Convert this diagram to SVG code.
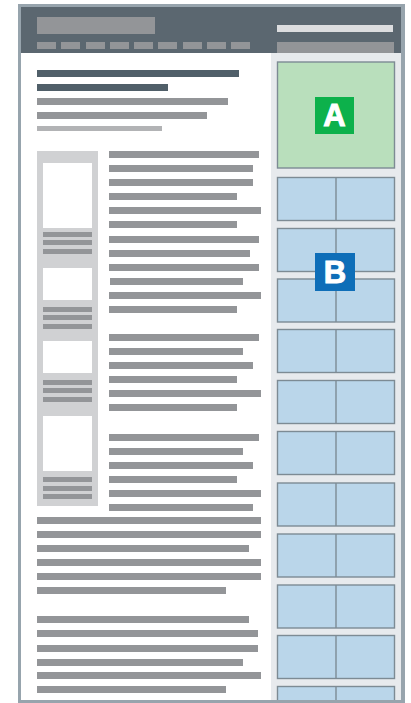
<svg xmlns="http://www.w3.org/2000/svg" width="411" height="703" viewBox="0 0 411 703">
<style>
.g{fill:#939598}
.d{fill:#505f69}
.l{fill:#b2b3b5}
.w{fill:#ffffff}
.bx{fill:#bad6ea;stroke:#7d8b94;stroke-width:1.4}
.ax{fill:#b9dfbc;stroke:#7d8b94;stroke-width:1.4}
.dv{stroke:#7d8b94;stroke-width:1.4}
.lbl{font-family:"Liberation Sans",Arial,sans-serif;font-weight:bold;font-size:31px;fill:#ffffff;stroke:#ffffff;stroke-width:1;text-anchor:middle}
</style>
<rect x="0" y="0" width="411" height="703" fill="#ffffff"/>
<g id="page">
<rect x="21" y="7" width="380" height="696" fill="#ffffff"/>
</g>
<g id="header">
<rect x="21" y="7" width="380" height="46" fill="#5b6770"/>
<rect x="37" y="17" width="118" height="17" class="g"/>
<rect x="37" y="42" width="19" height="7" class="g"/>
<rect x="61" y="42" width="19" height="7" class="g"/>
<rect x="86" y="42" width="19" height="7" class="g"/>
<rect x="110" y="42" width="19" height="7" class="g"/>
<rect x="134" y="42" width="19" height="7" class="g"/>
<rect x="158" y="42" width="19" height="7" class="g"/>
<rect x="183" y="42" width="19" height="7" class="g"/>
<rect x="207" y="42" width="19" height="7" class="g"/>
<rect x="231" y="42" width="19" height="7" class="g"/>
<rect x="277" y="25" width="116" height="7" fill="#dcdddf"/>
<rect x="277" y="42" width="117" height="11" class="g"/>
</g>
<g id="sidebar">
<rect x="271" y="53" width="130" height="650" fill="#e7eaed"/>
</g>
<g id="title">
<rect x="37" y="70" width="202" height="7" class="d"/>
<rect x="37" y="84" width="131" height="7" class="d"/>
<rect x="37" y="98" width="191" height="7" class="g"/>
<rect x="37" y="112" width="170" height="7" class="g"/>
<rect x="37" y="126" width="125" height="5" class="l"/>
</g>
<g id="gallery">
<rect x="37" y="151" width="61" height="355" fill="#d0d1d3"/>
<rect x="43" y="163" width="49" height="65" class="w"/>
<rect x="43" y="232" width="49" height="5" class="g"/>
<rect x="43" y="240" width="49" height="5" class="g"/>
<rect x="43" y="249" width="49" height="5" class="g"/>
<rect x="43" y="268" width="49" height="32" class="w"/>
<rect x="43" y="307" width="49" height="5" class="g"/>
<rect x="43" y="315" width="49" height="5" class="g"/>
<rect x="43" y="324" width="49" height="5" class="g"/>
<rect x="43" y="341" width="49" height="32" class="w"/>
<rect x="43" y="380" width="49" height="5" class="g"/>
<rect x="43" y="388" width="49" height="5" class="g"/>
<rect x="43" y="397" width="49" height="5" class="g"/>
<rect x="43" y="416" width="49" height="55" class="w"/>
<rect x="43" y="477" width="49" height="5" class="g"/>
<rect x="43" y="486" width="49" height="5" class="g"/>
<rect x="43" y="494" width="49" height="5" class="g"/>
</g>
<g id="body-text">
<rect x="109" y="151" width="150" height="7" class="g"/>
<rect x="109" y="165" width="144" height="7" class="g"/>
<rect x="109" y="179" width="144" height="7" class="g"/>
<rect x="109" y="193" width="128" height="7" class="g"/>
<rect x="109" y="207" width="152" height="7" class="g"/>
<rect x="109" y="221" width="128" height="7" class="g"/>
<rect x="109" y="236" width="150" height="7" class="g"/>
<rect x="109" y="250" width="141" height="7" class="g"/>
<rect x="109" y="264" width="150" height="7" class="g"/>
<rect x="110" y="278" width="133" height="7" class="g"/>
<rect x="109" y="292" width="152" height="7" class="g"/>
<rect x="109" y="306" width="128" height="7" class="g"/>

<rect x="109" y="334" width="150" height="7" class="g"/>
<rect x="109" y="348" width="134" height="7" class="g"/>
<rect x="109" y="362" width="144" height="7" class="g"/>
<rect x="109" y="376" width="128" height="7" class="g"/>
<rect x="109" y="390" width="152" height="7" class="g"/>
<rect x="109" y="404" width="128" height="7" class="g"/>

<rect x="109" y="434" width="150" height="7" class="g"/>
<rect x="109" y="448" width="134" height="7" class="g"/>
<rect x="109" y="462" width="144" height="7" class="g"/>
<rect x="109" y="476" width="128" height="7" class="g"/>
<rect x="109" y="490" width="152" height="7" class="g"/>
<rect x="109" y="504" width="144" height="7" class="g"/>

<rect x="37" y="517" width="224" height="7" class="g"/>
<rect x="37" y="531" width="224" height="7" class="g"/>
<rect x="37" y="545" width="212" height="7" class="g"/>
<rect x="37" y="559" width="224" height="7" class="g"/>
<rect x="37" y="573" width="224" height="7" class="g"/>
<rect x="37" y="587" width="189" height="7" class="g"/>

<rect x="37" y="616" width="212" height="7" class="g"/>
<rect x="37" y="630" width="221" height="7" class="g"/>
<rect x="37" y="645" width="221" height="7" class="g"/>
<rect x="37" y="659" width="206" height="7" class="g"/>
<rect x="37" y="672" width="224" height="7" class="g"/>
<rect x="37" y="686" width="189" height="7" class="g"/>
</g>
<g id="ad-a">
<rect x="277.5" y="62" width="117" height="106" class="ax"/>
<rect x="315" y="97" width="39" height="37" fill="#0db14b"/>
<text x="334.5" y="126" class="lbl">A</text>
</g>
<g id="ads-b">
<g id="b-row-1"><rect x="277.5" y="177.5" width="117" height="43" class="bx"/><line x1="336" y1="177.5" x2="336" y2="220.5" class="dv"/></g>
<g id="b-row-2"><rect x="277.5" y="228.5" width="117" height="43" class="bx"/><line x1="336" y1="228.5" x2="336" y2="271.5" class="dv"/></g>
<g id="b-row-3"><rect x="277.5" y="279" width="117" height="43" class="bx"/><line x1="336" y1="279" x2="336" y2="322" class="dv"/></g>
<g id="b-row-4"><rect x="277.5" y="329.5" width="117" height="43" class="bx"/><line x1="336" y1="329.5" x2="336" y2="372.5" class="dv"/></g>
<g id="b-row-5"><rect x="277.5" y="380.5" width="117" height="43" class="bx"/><line x1="336" y1="380.5" x2="336" y2="423.5" class="dv"/></g>
<g id="b-row-6"><rect x="277.5" y="431.5" width="117" height="43" class="bx"/><line x1="336" y1="431.5" x2="336" y2="474.5" class="dv"/></g>
<g id="b-row-7"><rect x="277.5" y="483" width="117" height="43" class="bx"/><line x1="336" y1="483" x2="336" y2="526" class="dv"/></g>
<g id="b-row-8"><rect x="277.5" y="534" width="117" height="43" class="bx"/><line x1="336" y1="534" x2="336" y2="577" class="dv"/></g>
<g id="b-row-9"><rect x="277.5" y="585" width="117" height="43" class="bx"/><line x1="336" y1="585" x2="336" y2="628" class="dv"/></g>
<g id="b-row-10"><rect x="277.5" y="635.5" width="117" height="43" class="bx"/><line x1="336" y1="635.5" x2="336" y2="678.5" class="dv"/></g>
<g id="b-row-11"><rect x="277.5" y="686.5" width="117" height="43" class="bx"/><line x1="336" y1="686.5" x2="336" y2="729.5" class="dv"/></g>
<rect x="315" y="253" width="40" height="38" fill="#0e6eb8"/>
<text x="335" y="283" class="lbl">B</text>
</g>
<g id="frame">
<path d="M18 4H405V703H18Z M21 7V700H401V7Z" fill="#97a4ad" fill-rule="evenodd"/>
</g>
</svg>
